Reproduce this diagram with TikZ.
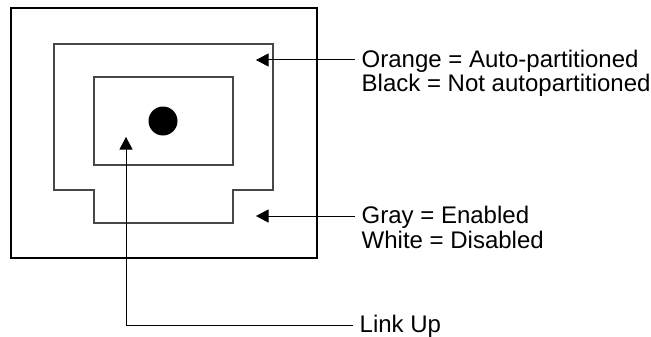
\documentclass[tikz,border=0pt]{standalone}
\usepackage{fontspec}
\setmainfont{Liberation Sans}
\usetikzlibrary{arrows.meta}
\begin{document}
\begin{tikzpicture}[x=1pt,y=-1pt,
  frame/.style={draw=black,line width=1.1pt},
  port/.style={draw=black!72,line width=1.1pt},
  conn/.style={draw=black,line width=1pt,-{Triangle[length=12.5pt,width=13pt]}},
  label/.style={anchor=base west,inner xsep=6.5pt,inner ysep=0pt,font=\fontsize{24}{26}\selectfont}]
\useasboundingbox (0,0) rectangle (651,337);
% outer jack face
\draw[frame] (11,8) rectangle (317,258);
% middle port outline
\draw[port] (54,44) -- (273,44) -- (273,190) -- (233,190) -- (233,223)
  -- (94,223) -- (94,190) -- (54,190) -- cycle;
% inner rectangle
\draw[port] (94,77) rectangle (233,165);
% LED dot
\fill[black] (163,121) circle (14.5);
% arrow tips
\coordinate (tipA) at (256,60);
\coordinate (tipB) at (256,216);
\coordinate (tipC) at (126,137);
\coordinate (bend) at (126,325);
% labels
\node[label] (orangeT) at (355,67) {Orange = Auto-partitioned};
\node[label] (blackT) at (355,92) {Black = Not autopartitioned};
\node[label] (grayT) at (355,223) {Gray = Enabled};
\node[label] (whiteT) at (355,248) {White = Disabled};
\node[label] (linkT) at (353,332) {Link Up};
% connectors
\draw[conn] (tipA -| orangeT.west) -- (tipA);
\draw[conn] (tipB -| grayT.west) -- (tipB);
\draw[conn] (bend -| linkT.west) -- (bend) -- (tipC);
\end{tikzpicture}
\end{document}
